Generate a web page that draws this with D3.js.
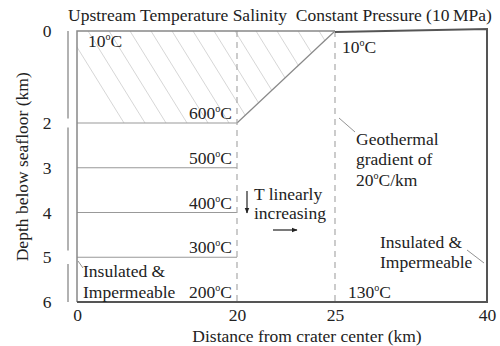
<!DOCTYPE html>
<html>
<head>
<script src="https://d3js.org/d3.v7.min.js"></script>
<style>
  body { margin: 0; background: #fff; }
  text { font-family: "Liberation Serif", "Times New Roman", serif; fill: #222; }
</style>
</head>
<body>
<svg width="500" height="346"></svg>
<script>
// data
var xTicks = [0, 20, 25, 40];
var yTicks = [0, 2, 3, 4, 5, 6];
var isoDepths = [2, 3, 4, 5];
var isoLabels = [600, 500, 400, 300, 200];
var labelDepths = [2, 3, 4, 5, 6];
// hatched (cold) region, km / km
var coldZone = [[0, 0], [25, 0], [20, 2], [0, 2]];
var dashX = [20, 25];

var FS = "17.5px";
var svg = d3.select("svg");

// scales (x is stretched piecewise, as in the sketch)
var x = d3.scaleLinear().domain([0, 20, 25, 40]).range([77, 237, 335, 487]);
var y = d3.scaleLinear().domain([0, 2, 6]).range([31, 123, 302]);

// hatch
svg.append("clipPath").attr("id", "cold")
  .append("path")
  .attr("d", d3.line().x(d => x(d[0])).y(d => y(d[1]))(coldZone) + "Z");

var hatch = svg.append("g").attr("clip-path", "url(#cold)");
var h = y(2) - y(0);
for (var s = x(0) - 10; s < x(25) + 10; s += 21) {
  hatch.append("line")
    .attr("x1", s).attr("y1", y(0))
    .attr("x2", s + h * 0.62).attr("y2", y(2))
    .attr("stroke", "#ccc").attr("stroke-width", 0.8);
}

// isotherms
svg.selectAll(".iso").data(isoDepths).enter().append("line")
  .attr("x1", x(0)).attr("x2", x(20))
  .attr("y1", d => y(d)).attr("y2", d => y(d))
  .attr("stroke", "#999").attr("stroke-width", 1.2);

svg.append("line")
  .attr("x1", x(20)).attr("y1", y(2))
  .attr("x2", x(25)).attr("y2", y(0))
  .attr("stroke", "#888").attr("stroke-width", 1.2);

// dashed boundaries
svg.selectAll(".dash").data(dashX).enter().append("line")
  .attr("x1", d => x(d)).attr("x2", d => x(d))
  .attr("y1", y(0)).attr("y2", y(6))
  .attr("stroke", "#aaa").attr("stroke-width", 1.2)
  .attr("stroke-dasharray", "6,5");

// box
svg.append("path")
  .attr("d", "M" + x(0) + "," + y(6) + "V" + y(0) + "H" + x(25))
  .attr("fill", "none").attr("stroke", "#888").attr("stroke-width", 1.5);
svg.append("path")
  .attr("d", "M" + x(25) + "," + (y(0) + 1) + "L" + x(40) + "," + (y(0) - 2) +
        "V" + y(6) + "H" + x(0))
  .attr("fill", "none").attr("stroke", "#555").attr("stroke-width", 2);

// left spine (broken near some ticks, like the sketch)
var spineBreaks = [[0, 1.9], [2.1, 4.85], [5.15, 6]];
svg.selectAll(".spine").data(spineBreaks).enter().append("line")
  .attr("x1", 68).attr("x2", 68)
  .attr("y1", d => y(d[0])).attr("y2", d => y(d[1]))
  .attr("stroke", "#999").attr("stroke-width", 1.5);

// axes
var xAxis = svg.append("g")
  .attr("transform", "translate(0," + (y(6) + 3) + ")")
  .call(d3.axisBottom(x).tickValues(xTicks).tickSize(0).tickPadding(4));
xAxis.select(".domain").remove();
xAxis.selectAll("text").style("font-size", FS)
  .style("font-family", "Liberation Serif").attr("fill", "#222");

var yAxis = svg.append("g")
  .attr("transform", "translate(47,0)")
  .call(d3.axisLeft(y).tickValues(yTicks).tickFormat(d3.format("d")).tickSize(0).tickPadding(0));
yAxis.select(".domain").remove();
yAxis.selectAll("text").style("font-size", FS).attr("text-anchor", "middle")
  .style("font-family", "Liberation Serif").attr("fill", "#222");

svg.append("text").attr("x", 307).attr("y", 342)
  .attr("text-anchor", "middle").style("font-size", FS)
  .text("Distance from crater center (km)");

svg.append("text")
  .attr("transform", "translate(28," + (y(3) - 1) + ") rotate(-90)")
  .attr("text-anchor", "middle").style("font-size", FS)
  .text("Depth below seafloor (km)");

svg.append("text").attr("x", 68).attr("y", 21).style("font-size", FS)
  .attr("xml:space", "preserve")
  .text("Upstream Temperature Salinity  Constant Pressure (10\u2009MPa)");

// temperature labels with superscript degree
function degLabel(px, py, val, anchor, suffix) {
  var t = svg.append("text").attr("x", px).attr("y", py)
    .attr("text-anchor", anchor || "start").style("font-size", FS);
  t.append("tspan").text(val);
  t.append("tspan").attr("dy", -7).style("font-size", "10px").text("o");
  t.append("tspan").attr("dy", 7).text("C" + (suffix || ""));
  return t;
}

labelDepths.forEach(function (d, i) {
  degLabel(x(20) - 5, y(d) - 4, isoLabels[i], "end");
});
degLabel(x(0) + 11, y(0) + 16, 10);
degLabel(x(25) + 7, y(0) + 22, 10);
degLabel(348, y(6) - 4, 130);

function lines(px, py, arr, gap) {
  var t = svg.append("text").attr("x", px).attr("y", py).style("font-size", FS);
  arr.forEach(function (s, i) {
    t.append("tspan").attr("x", px).attr("dy", i ? gap : 0).text(s);
  });
  return t;
}

lines(x(0) + 6, 277, ["Insulated &", "Impermeable"], 21);
lines(380, 248, ["Insulated &", "Impermeable"], 20);
lines(254, 200, ["T linearly", "increasing"], 19);
lines(356, 145, ["Geothermal", "gradient of"], 20);
degLabel(356, 186, 20, "start", "/km");

// leaders
var leaders = [[78, 261, 83, 268], [467, 250, 484, 263], [339, 118, 355, 132]];
svg.selectAll(".lead").data(leaders).enter().append("line")
  .attr("x1", d => d[0]).attr("y1", d => d[1])
  .attr("x2", d => d[2]).attr("y2", d => d[3])
  .attr("stroke", "#777").attr("stroke-width", 0.8);

// arrows
svg.append("defs").append("marker").attr("id", "ah")
  .attr("viewBox", "0 0 10 10").attr("refX", 9).attr("refY", 5)
  .attr("markerWidth", 5).attr("markerHeight", 5).attr("orient", "auto")
  .append("path").attr("d", "M0,1L10,5L0,9Z").attr("fill", "#222");
svg.append("line").attr("x1", 247).attr("y1", 191).attr("x2", 247).attr("y2", 213)
  .attr("stroke", "#222").attr("stroke-width", 1.2).attr("marker-end", "url(#ah)");
svg.append("line").attr("x1", 273).attr("y1", 230).attr("x2", 297).attr("y2", 230)
  .attr("stroke", "#222").attr("stroke-width", 1.2).attr("marker-end", "url(#ah)");
</script>
</body>
</html>
